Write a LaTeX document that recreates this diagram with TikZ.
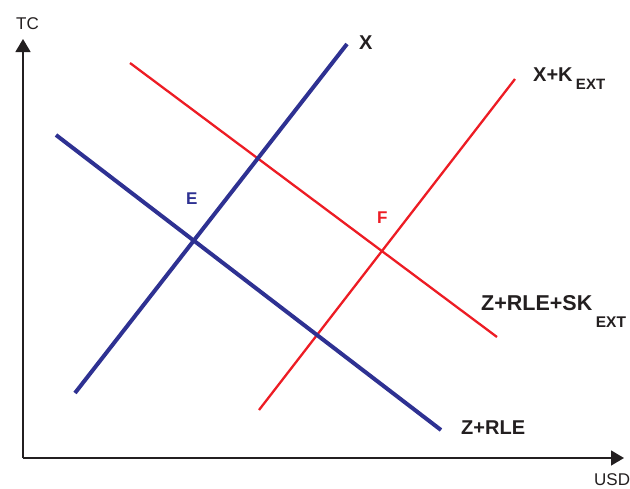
\documentclass[tikz,border=0pt]{standalone}
\usepackage{fontspec}
\setmainfont{Liberation Sans}
\usetikzlibrary{arrows.meta}
\definecolor{lblue}{HTML}{2E3192}
\definecolor{lred}{HTML}{ED1C24}
\definecolor{ltext}{HTML}{231F20}
\tikzset{
  axis/.style={draw=ltext, line width=1.5pt, -{Triangle[length=13pt,width=15pt]}},
  blueline/.style={draw=lblue, line width=4pt},
  redline/.style={draw=lred, line width=2.3pt},
  lbl/.style={inner sep=0pt, anchor=base west, text=ltext, font=\bfseries\fontsize{20}{24}\selectfont},
  axlbl/.style={inner sep=0pt, anchor=base west, text=ltext, font=\fontsize{17}{20}\selectfont}
}
\begin{document}
\begin{tikzpicture}[x=1pt,y=-1pt]
\useasboundingbox (0,0) rectangle (630,488);
% axes
\coordinate (O) at (23,458);
\coordinate (Ytip) at (23,39);
\coordinate (Xtip) at (624,458);
\draw[axis] (O) -- (Ytip);
\draw[axis] (O) -- (Xtip);
\node[axlbl] (tc) at (16,29) {TC};
\node[axlbl] (usd) at (594,485) {USD};
% lines
\coordinate (x1) at (75,393);
\coordinate (x2) at (347,44);
\coordinate (z1) at (56,135);
\coordinate (z2) at (441,430);
\coordinate (xk1) at (259,410);
\coordinate (xk2) at (515,79);
\coordinate (zs1) at (130,63);
\coordinate (zs2) at (497,337);
\draw[redline] (xk1) -- (xk2);
\draw[redline] (zs1) -- (zs2);
\draw[blueline] (x1) -- (x2);
\draw[blueline] (z1) -- (z2);
% labels
\node[lbl] (lx) at (359,49) {X};
\node[lbl] (lxk) at (533,81) {X+K\,\raisebox{-8pt}{\bfseries\fontsize{15}{18}\selectfont EXT}};
\node[lbl, font=\bfseries\fontsize{21.5}{24}\selectfont] (lzs) at (481,310) {Z+RLE+SK\,\raisebox{-17pt}{\bfseries\fontsize{15.5}{18}\selectfont EXT}};
\node[lbl] (lz) at (461,434) {Z+RLE};
\node[lbl, text=lblue, font=\bfseries\fontsize{17}{20}\selectfont] (le) at (186,204) {E};
\node[lbl, text=lred, font=\bfseries\fontsize{17}{20}\selectfont] (lf) at (377,223) {F};
\end{tikzpicture}
\end{document}
